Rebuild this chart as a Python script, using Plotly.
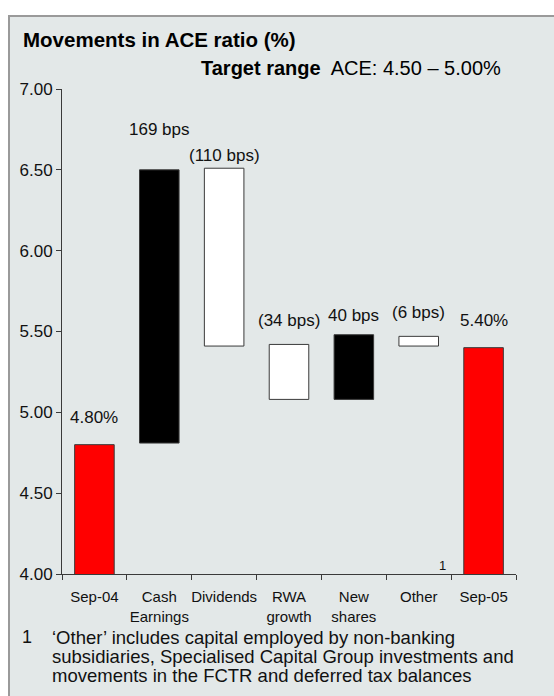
import plotly.graph_objects as go

# ACE ratio walk, Sep-04 to Sep-05
categories = ["Sep-04", "Cash<br>Earnings", "Dividends", "RWA<br>growth", "New<br>shares", "Other", "Sep-05"]
opening_ratio = 4.80
closing_ratio = 5.40
move_names = categories[1:6]
move_bps = [169, -110, -34, 40, -6]
move_start = [4.81, 6.51, 5.42, 5.08, 5.47]
y_ticks = [4.00, 4.50, 5.00, 5.50, 6.00, 6.50, 7.00]
footnote_lines = [
    "\u2018Other\u2019 includes capital employed by non-banking",
    "subsidiaries, Specialised Capital Group investments and",
    "movements in the FCTR and deferred tax balances",
]

FONT = "Arial, Liberation Sans, sans-serif"
PANEL = "#E3E8E8"
EDGE = "#3a3a3a"
TXT = "#111111"

def bps_label(v):
    return f"{v} bps" if v >= 0 else f"({-v} bps)"

fig = go.Figure()

# Opening and closing totals
fig.add_trace(go.Bar(
    x=[categories[0], categories[6]],
    y=[opening_ratio, closing_ratio],
    marker=dict(color="#FF0000", line=dict(color=EDGE, width=1)),
    width=0.61, hoverinfo="skip",
))

# Movements: black for increases, white for decreases
fig.add_trace(go.Bar(
    x=move_names,
    y=[b / 100 for b in move_bps],
    base=move_start,
    marker=dict(color=["#000000" if b > 0 else "#FFFFFF" for b in move_bps],
                line=dict(color=EDGE, width=1)),
    width=0.61, hoverinfo="skip",
))

labels = [f"{opening_ratio:.2f}%"] + [bps_label(b) for b in move_bps] + [f"{closing_ratio:.2f}%"]
label_y = [4.97, 6.75, 6.59, 5.565, 5.60, 5.62, 5.565]
for cat, txt, ly in zip(categories, labels, label_y):
    fig.add_annotation(x=cat, y=ly, text=txt, showarrow=False,
                       font=dict(family=FONT, size=17, color=TXT),
                       xanchor="center", yanchor="middle")

# footnote marker on the Other column
fig.add_annotation(x=categories[5], y=4.0, text="1", showarrow=False,
                   xshift=24, yshift=9, font=dict(family=FONT, size=13, color=TXT),
                   xanchor="center", yanchor="middle")

W, H = 554, 696
L, R, T, B = 62, 38, 89, 122
def px_x(px):
    return (px - L) / (W - L - R)
def px_y(py):
    return 1 - (py - T) / (H - T - B)

# Panel background and frame
fig.add_shape(type="rect", xref="paper", yref="paper",
              x0=px_x(9), x1=px_x(560), y0=px_y(700), y1=px_y(16),
              fillcolor=PANEL, line=dict(color="#9a9a9a", width=2), layer="below")

fig.add_annotation(xref="paper", yref="paper", x=px_x(21), y=px_y(40),
                   text="<b>Movements in ACE ratio (%)</b>", showarrow=False,
                   xanchor="left", yanchor="middle",
                   font=dict(family=FONT, size=20.5, color="#000"))
fig.add_annotation(xref="paper", yref="paper", x=px_x(503), y=px_y(68),
                   text="<b>Target range</b>  ACE: 4.50 \u2013 5.00%", showarrow=False,
                   xanchor="right", yanchor="middle",
                   font=dict(family=FONT, size=20, color="#000"))

fig.add_annotation(xref="paper", yref="paper", x=px_x(20), y=px_y(637),
                   text="1", showarrow=False, xanchor="left", yanchor="middle",
                   font=dict(family=FONT, size=18, color=TXT))
for i, line in enumerate(footnote_lines):
    fig.add_annotation(xref="paper", yref="paper", x=px_x(50), y=px_y(637 + 19 * i),
                       text=line, showarrow=False, xanchor="left", yanchor="middle",
                       align="left", font=dict(family=FONT, size=18.5, color=TXT))

fig.update_layout(
    width=W, height=H,
    margin=dict(l=L, r=R, t=T, b=B),
    paper_bgcolor="white", plot_bgcolor="rgba(0,0,0,0)",
    showlegend=False, barmode="overlay",
    font=dict(family=FONT, size=16, color=TXT),
)
fig.update_xaxes(
    type="category", categoryorder="array", categoryarray=categories,
    showline=True, linecolor=EDGE, linewidth=1, tickangle=0,
    ticks="outside", tickson="boundaries", ticklen=5, tickcolor=EDGE,
    ticklabelstandoff=9,
    showgrid=False, tickfont=dict(family=FONT, size=15, color=TXT),
)
fig.update_yaxes(
    range=[4.0, 7.0], tickvals=y_ticks, ticktext=[f"{v:.2f}" for v in y_ticks],
    showline=True, linecolor=EDGE, linewidth=1,
    ticks="outside", ticklen=5, tickcolor=EDGE, showgrid=False, zeroline=False,
    tickfont=dict(family=FONT, size=17, color=TXT),
)

fig.write_html("out.html")
